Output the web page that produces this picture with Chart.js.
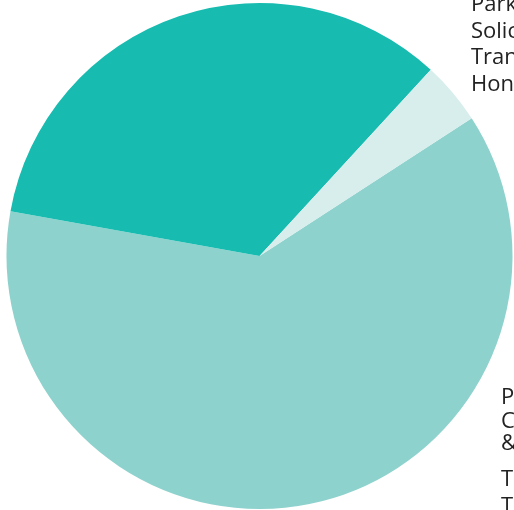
<!DOCTYPE html>
<html>
<head>
<meta charset="utf-8">
<script src="https://cdn.jsdelivr.net/npm/chart.js@4/dist/chart.umd.min.js"></script>
<style>
  html, body { margin: 0; padding: 0; background: #fff; overflow: hidden; }
  #wrap { position: relative; width: 514px; height: 510px; }
</style>
</head>
<body>
<div id="wrap"><canvas id="pie-chart"></canvas></div>
<script>
(function() {
    'use strict';

    // Slice data (share of total, %)
    var categories = ['Other services', 'Legal services', 'Travel'];
    var values = [62, 34, 4];
    var colors = ['#8ed2cd', '#17bbb0', '#d7eeec'];

    // Side captions, one entry per text line
    var topCaptions = ['Parking', 'Solicitors', 'Transport', 'Honours'];
    var bottomCaptions = ['Property', 'Conveyancing', '& Legal', 'Travel', 'Tuition'];

    var captionFont = '22px "Open Sans", sans-serif';

    // draws the caption lines on the right-hand side
    var captionPlugin = {
        id: 'captions',
        afterDraw: function(chart) {
            var c = chart.ctx;
            c.save();
            c.font = captionFont;
            c.fillStyle = '#222';
            c.textAlign = 'left';
            c.textBaseline = 'alphabetic';
            var topY = [11, 38, 64, 91];
            topCaptions.forEach(function(t, i) {
                c.fillText(t, 471, topY[i]);
            });
            var botY = [404, 428, 450, 486, 513];
            bottomCaptions.forEach(function(t, i) {
                c.fillText(t, 501, botY[i]);
            });
            c.restore();
        }
    };

    function initChart() {
        var ctx = document.getElementById('pie-chart');
        if (!ctx) return;

        new Chart(ctx, {
            type: 'pie',
            data: {
                labels: categories,
                datasets: [{
                    data: values,
                    backgroundColor: colors,
                    borderWidth: 0,
                    hoverOffset: 0
                }]
            },
            options: {
                responsive: true,
                maintainAspectRatio: false,
                animation: false,
                rotation: 57,
                layout: {
                    padding: { left: 5, right: 0, top: 3, bottom: 1 }
                },
                plugins: {
                    legend: { display: false },
                    tooltip: { enabled: false }
                }
            },
            plugins: [captionPlugin]
        });
    }

    if (document.readyState === 'loading') {
        document.addEventListener('DOMContentLoaded', initChart);
    } else {
        initChart();
    }
})();
</script>
</body>
</html>
